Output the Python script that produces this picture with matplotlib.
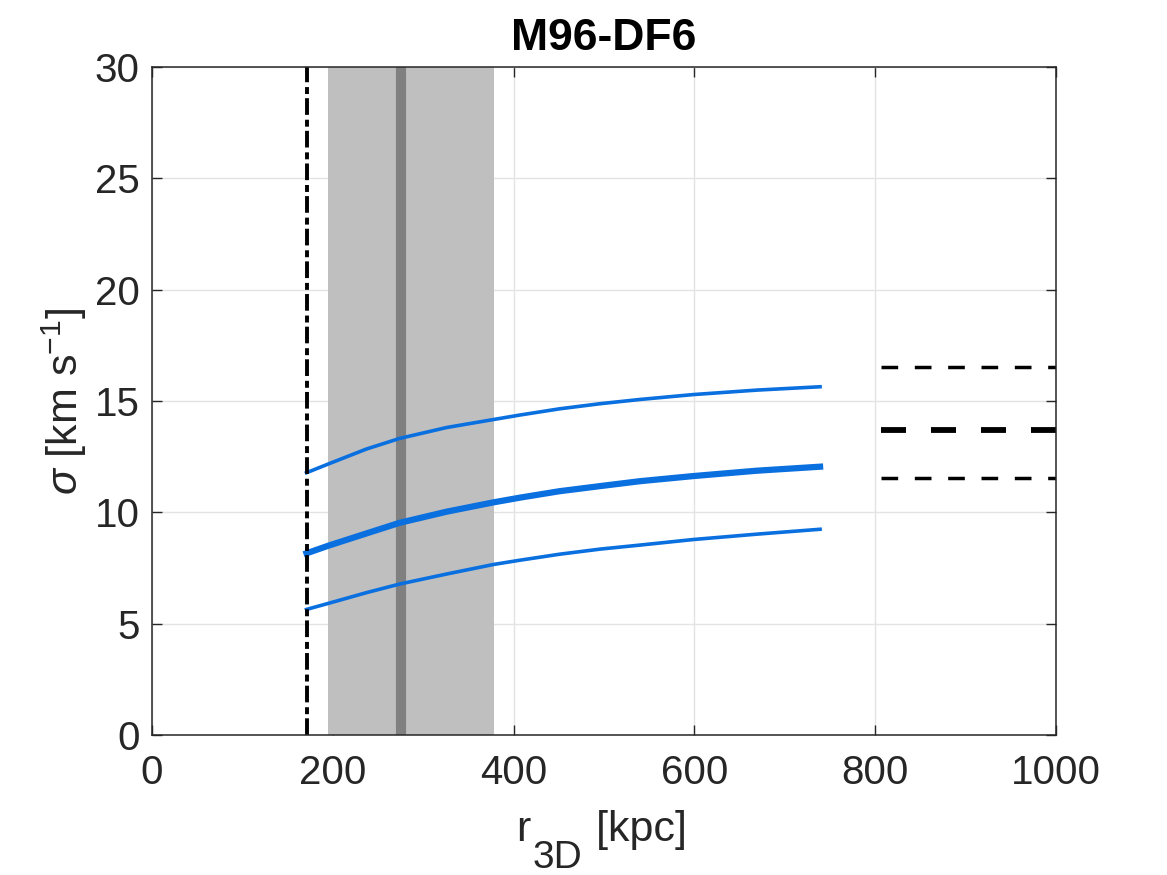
import matplotlib
matplotlib.use("Agg")
from matplotlib import pyplot as plt

plt.rcParams["font.family"] = ["Liberation Sans", "DejaVu Sans"]
plt.rcParams["mathtext.fontset"] = "custom"
plt.rcParams["mathtext.rm"] = "Liberation Sans"
plt.rcParams["mathtext.it"] = "Liberation Sans:italic"
plt.rcParams["lines.scale_dashes"] = False

# data
r_kpc = [171, 195, 237, 274, 326, 378, 407, 451, 496, 540, 599, 669, 739]
sigma_hi = [11.78, 12.17, 12.84, 13.32, 13.81, 14.17, 14.37, 14.65, 14.88, 15.07, 15.29, 15.49, 15.64]
sigma_mid = [8.16, 8.50, 9.05, 9.53, 10.03, 10.45, 10.66, 10.95, 11.18, 11.40, 11.63, 11.87, 12.05]
sigma_lo = [5.64, 5.91, 6.39, 6.78, 7.23, 7.66, 7.85, 8.12, 8.35, 8.53, 8.78, 9.02, 9.24]

r_min = 171          # dash-dot vertical line
band = [195, 378]    # shaded range
r_best = 275.7       # dark line in band
obs_x = [806, 1000]
obs_sigma = 13.71
obs_hi = 16.54
obs_lo = 11.54

blue = "#0a6fdf"
txt = "#262626"
W, H = 1167, 875

fig = plt.figure(figsize=(W / 100, H / 100), dpi=100)
ax = fig.add_axes([0.1302, 0.16, 0.7747, 0.7634])

ax.axvspan(band[0], band[1], color="#bfbfbf", lw=0, zorder=1)
ax.axvline(r_best, color="#808080", lw=7.3, zorder=2)
ax.axvline(r_min, color="black", lw=2.8, dashes=(12, 3, 5, 3.5),
           solid_capstyle="butt", dash_capstyle="butt", zorder=4)

ax.plot(r_kpc, sigma_hi, color=blue, lw=2.6, zorder=3)
ax.plot(r_kpc, sigma_mid, color=blue, lw=4.5, zorder=3)
ax.plot(r_kpc, sigma_lo, color=blue, lw=2.6, zorder=3)

ax.plot(obs_x, [obs_hi, obs_hi], color="black", lw=2.5, dashes=(12, 12),
        dash_capstyle="butt", zorder=3)
ax.plot(obs_x, [obs_sigma, obs_sigma], color="black", lw=4.2, dashes=(18, 18),
        dash_capstyle="butt", zorder=3)
ax.plot(obs_x, [obs_lo, obs_lo], color="black", lw=2.5, dashes=(12, 12),
        dash_capstyle="butt", zorder=3)

ax.set_xlim(0, 1000)
ax.set_ylim(0, 30)
ax.set_xticks([0, 200, 400, 600, 800, 1000])
ax.set_yticks([0, 5, 10, 15, 20, 25, 30])
ax.grid(True, color="#e3e3e3", lw=1)
ax.set_axisbelow(True)
ax.tick_params(direction="in", length=7, width=1, colors=txt, labelsize=29,
               top=True, right=True)
ax.tick_params(axis="x", pad=14)
ax.tick_params(axis="y", pad=9)
for s in ax.spines.values():
    s.set_color(txt)
    s.set_linewidth(1.1)
    s.set_zorder(5)

ax.set_title("M96-DF6", fontsize=32, fontweight="bold", pad=12)

# x label, MATLAB style big subscript: pieces placed in pixels
fig.canvas.draw()
rend = fig.canvas.get_renderer()
pieces = [("r", 0, 31), ("3D", -27, 28), (" [kpc]", 0, 31)]
objs = []
for s, dy, fs in pieces:
    t = fig.text(0, 0, s, fontsize=fs, color=txt, va="baseline", ha="left")
    objs.append((t, dy))
widths = [t.get_window_extent(rend).width for t, dy in objs]
x = 600 - sum(widths) / 2
base = H - 841
for (t, dy), w in zip(objs, widths):
    t.set_position((x / W, (base + dy) / H))
    x += w + 2

ax.set_ylabel(r"$\it{\sigma}$ [km s$^{\mathrm{-1}}$]", fontsize=31, color=txt)
ax.yaxis.set_label_coords(78 / W, 474 / H, transform=fig.transFigure)
ax.yaxis.label.set_va("baseline")

fig.savefig("out.png", dpi=100)
